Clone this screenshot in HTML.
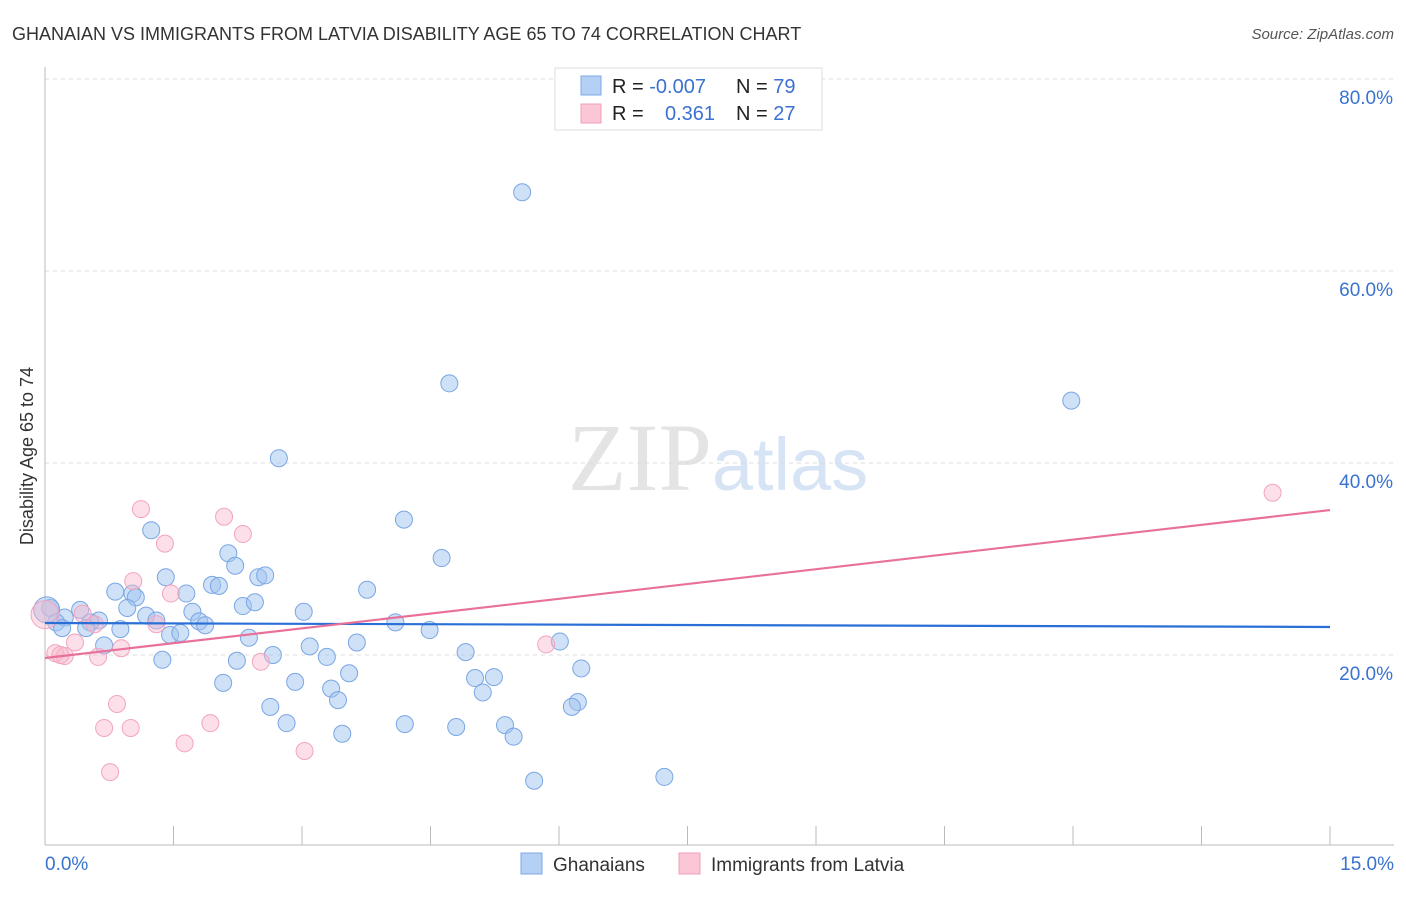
<!DOCTYPE html>
<html><head><meta charset="utf-8"><style>
body{margin:0;background:#fff;font-family:"Liberation Sans",sans-serif;}
svg text{font-family:"Liberation Sans",sans-serif;}
</style></head><body>
<svg id="chart" width="1406" height="892">
<text x="12" y="40" font-size="18" fill="#333">GHANAIAN VS IMMIGRANTS FROM LATVIA DISABILITY AGE 65 TO 74 CORRELATION CHART</text>
<text x="1394" y="39" font-size="15" fill="#555" text-anchor="end" font-style="italic">Source: ZipAtlas.com</text>
<text x="718" y="490" font-size="96" fill="#e4e4e4" text-anchor="middle" font-family="Liberation Serif"><tspan font-family="Liberation Serif">ZIP</tspan><tspan fill="#d6e4f5" font-family="Liberation Sans" font-size="74">atlas</tspan></text>
<g id="grid"></g>
<g id="axes"></g>
<g id="pts"></g>
<g id="lines"></g>
<text transform="translate(33,456) rotate(-90)" font-size="18" fill="#333" text-anchor="middle">Disability Age 65 to 74</text>
<g>
<rect x="555" y="68" width="267" height="62" fill="#fff" stroke="#ddd"/>
<rect x="581" y="76" width="20" height="19" fill="#b5d0f5" stroke="#7fa9e4"/>
<rect x="581" y="104" width="20" height="19" fill="#fbc6d6" stroke="#f0a0b8"/>
<text x="612" y="93" font-size="20" fill="#222">R = <tspan fill="#3a72d0">-0.007</tspan></text>
<text x="736" y="93" font-size="20" fill="#222">N = <tspan fill="#3a72d0">79</tspan></text>
<text x="612" y="120" font-size="20" fill="#222">R = </text>
<text x="665" y="120" font-size="20" fill="#3a72d0">0.361</text>
<text x="736" y="120" font-size="20" fill="#222">N = <tspan fill="#3a72d0">27</tspan></text>
</g>
<g>
<rect x="521" y="853" width="21" height="21" fill="#b5d0f5" stroke="#7fa9e4"/>
<text x="553" y="871" font-size="19" fill="#333">Ghanaians</text>
<rect x="679" y="853" width="21" height="21" fill="#fbc6d6" stroke="#f0a0b8"/>
<text x="711" y="871" font-size="19" fill="#333">Immigrants from Latvia</text>
</g>
</svg>
<script>
const blueX=[5.57,4.72,11.98,2.73,4.19,1.24,4.63,2.14,2.22,1.41,2.49,2.57,1.95,2.03,3.76,0.82,1.02,1.06,1.65,0.96,0.41,0.06,2.31,2.45,3.02,1.72,1.18,1.30,0.23,0.13,0.63,0.53,1.80,1.87,4.09,0.20,0.48,0.88,4.49,1.46,1.58,2.38,0.69,3.09,3.64,6.01,2.24,2.66,3.29,1.37,4.91,3.55,6.26,5.02,5.24,2.08,2.92,3.34,5.11,3.42,6.22,6.15,2.63,2.82,4.20,4.80,5.37,3.47,5.47,5.71,7.23,0.02];
const blueY=[68.2,48.3,46.5,40.5,34.1,33.0,30.1,30.6,29.3,28.1,28.1,28.3,27.3,27.2,26.8,26.6,26.4,26.0,26.4,24.9,24.7,24.9,25.1,25.5,24.5,24.5,24.1,23.6,23.9,23.4,23.6,23.4,23.5,23.1,23.4,22.8,22.8,22.7,22.6,22.1,22.3,21.8,21.0,20.9,21.3,21.4,19.4,20.0,19.8,19.5,20.3,18.1,18.6,17.6,17.7,17.1,17.2,16.5,16.1,15.3,15.1,14.6,14.6,12.9,12.8,12.5,12.7,11.8,11.5,6.9,7.3,24.7];
const pinkX=[1.12,2.09,2.31,1.40,1.03,1.47,0.44,0.58,1.30,0.35,0.89,0.12,0.23,0.62,2.52,5.85,0.84,1.93,0.69,1.00,1.63,3.03,0.76,14.33,0.0,0.18];
const pinkY=[35.2,34.4,32.6,31.6,27.7,26.4,24.3,23.2,23.2,21.3,20.7,20.2,19.9,19.8,19.3,21.1,14.9,12.9,12.4,12.4,10.8,10.0,7.8,36.9,24.2,20.0];
const blueTrend=[23.33,22.92];
const pinkTrend=[19.69,35.1];
const xTicks=[0,1.5,3,4.5,6,7.5,9,10.5,12,13.5,15];
const yTicks=[20,40,60,80];
const yTickLabels=["20.0%","40.0%","60.0%","80.0%"];
const X0=45,X1=1330,Y0=847,YS=9.6;
const sx=v=>X0+(v/15)*(X1-X0), sy=v=>Y0-v*YS;
const NS="http://www.w3.org/2000/svg";
function mk(tag,attrs,parent){const e=document.createElementNS(NS,tag);for(const k in attrs)e.setAttribute(k,attrs[k]);document.getElementById(parent).appendChild(e);return e;}
yTicks.forEach((t,i)=>{
 const l=mk('line',{x1:X0,x2:1394,y1:sy(t),y2:sy(t),stroke:'#ddd','stroke-dasharray':'4,4'},'grid');
 
 
 const tx=mk('text',{x:1393,y:sy(t)+25,'font-size':19,fill:'#3a72d0','text-anchor':'end'},'grid');
 tx.textContent=yTickLabels[i];
 
 
});
const ax=mk('line',{x1:X0,x2:X0,y1:67,y2:845,stroke:'#bbb'},'axes');


const bx=mk('line',{x1:X0,x2:1394,y1:845,y2:845,stroke:'#bbb'},'axes');


xTicks.forEach(t=>{const l=mk('line',{x1:sx(t),x2:sx(t),y1:826,y2:845,stroke:'#bbb'},'axes');
 
 });
[[0,'0.0%','start',45],[15,'15.0%','end',1394]].forEach(a=>{const t=mk('text',{x:a[3],y:870,'font-size':19,fill:'#3a72d0','text-anchor':a[2]},'axes');t.textContent=a[1];
 
 });
blueX.forEach((x,i)=>{const big=x<0.05;const c=mk('circle',{cx:sx(x),cy:sy(blueY[i]),r:big?13:8.5,fill:'rgba(160,196,240,0.5)',stroke:'#7aa6e4','stroke-width':1},'pts');
 
 });
pinkX.forEach((x,i)=>{const big=x<0.05;const c=mk('circle',{cx:sx(x),cy:sy(pinkY[i]),r:big?14:8.5,fill:'rgba(248,185,205,0.45)',stroke:'#f2a5bd','stroke-width':1},'pts');
 
 });
const bl=mk('line',{x1:sx(0),x2:sx(15),y1:sy(blueTrend[0]),y2:sy(blueTrend[1]),stroke:'#2a6fd6','stroke-width':2.2},'lines');


const pl=mk('line',{x1:sx(0),x2:sx(15),y1:sy(pinkTrend[0]),y2:sy(pinkTrend[1]),stroke:'#e8709a','stroke-width':2.2},'lines');


</script>
</body></html>
